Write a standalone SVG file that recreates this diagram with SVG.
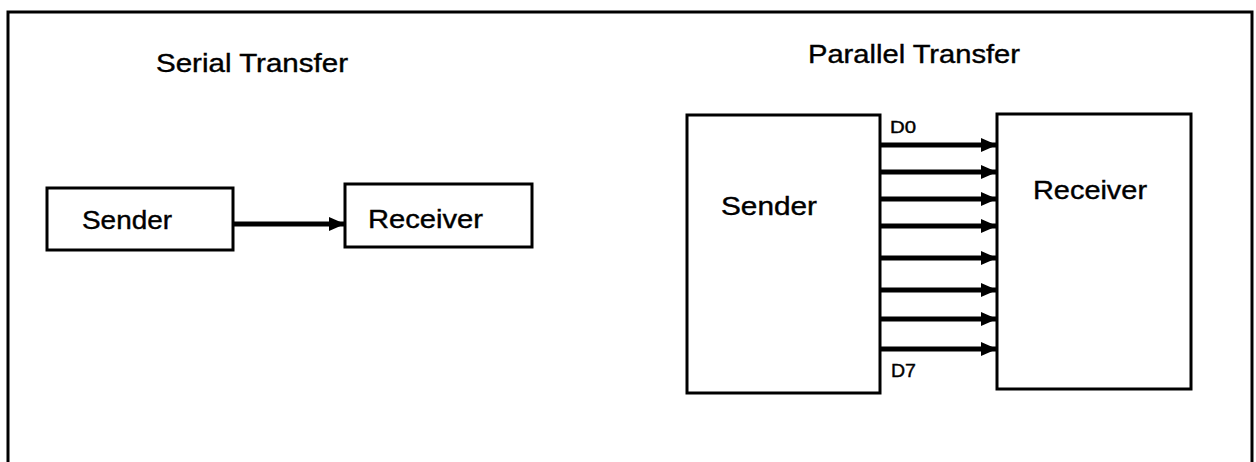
<svg xmlns="http://www.w3.org/2000/svg" width="1256" height="462" viewBox="0 0 1256 462">
<defs>
<style>
.box{fill:#fff;stroke:#000;stroke-width:3}
.t{font-family:"Liberation Sans",Arial,sans-serif;fill:#000;stroke:#000;stroke-width:0.4}
.w{stroke:#000;stroke-width:5;fill:none}
</style>
<marker id="ah" markerUnits="userSpaceOnUse" markerWidth="18" markerHeight="16" refX="16" refY="8" orient="auto">
<path d="M0,1 L16,8 L0,15 Z" fill="#000"/>
</marker>
</defs>
<rect width="1256" height="462" fill="#fff"/>
<path d="M8,470 V12 H1252 V470" fill="none" stroke="#000" stroke-width="3"/>
<text class="t" x="156" y="72" font-size="26" textLength="192" lengthAdjust="spacingAndGlyphs">Serial Transfer</text>
<text class="t" x="808" y="63" font-size="26" textLength="212" lengthAdjust="spacingAndGlyphs">Parallel Transfer</text>
<g id="serial-sender">
<rect class="box" x="47" y="188" width="186" height="62"/>
<text class="t" x="82" y="229" font-size="26" textLength="90" lengthAdjust="spacingAndGlyphs">Sender</text>
</g>
<g id="serial-receiver">
<rect class="box" x="345" y="184" width="187" height="63"/>
<text class="t" x="368" y="228" font-size="26" textLength="115" lengthAdjust="spacingAndGlyphs">Receiver</text>
</g>
<g id="parallel-sender">
<rect class="box" x="687" y="115" width="193" height="278"/>
<text class="t" x="721" y="215" font-size="26" textLength="96" lengthAdjust="spacingAndGlyphs">Sender</text>
</g>
<g id="parallel-receiver">
<rect class="box" x="997" y="114" width="194" height="275"/>
<text class="t" x="1033" y="199" font-size="26" textLength="114" lengthAdjust="spacingAndGlyphs">Receiver</text>
</g>
<g id="connectors">
<line class="w" x1="233" y1="224" x2="345" y2="224" marker-end="url(#ah)"/>
<line class="w" x1="880" y1="145" x2="997" y2="145" marker-end="url(#ah)"/>
<line class="w" x1="880" y1="172" x2="997" y2="172" marker-end="url(#ah)"/>
<line class="w" x1="880" y1="199" x2="997" y2="199" marker-end="url(#ah)"/>
<line class="w" x1="880" y1="226" x2="997" y2="226" marker-end="url(#ah)"/>
<line class="w" x1="880" y1="258" x2="997" y2="258" marker-end="url(#ah)"/>
<line class="w" x1="880" y1="290" x2="997" y2="290" marker-end="url(#ah)"/>
<line class="w" x1="880" y1="319" x2="997" y2="319" marker-end="url(#ah)"/>
<line class="w" x1="880" y1="349" x2="997" y2="349" marker-end="url(#ah)"/>
<text class="t" x="890" y="133" font-size="16" textLength="26" lengthAdjust="spacingAndGlyphs">D0</text>
<text class="t" x="891" y="377" font-size="18" textLength="25" lengthAdjust="spacingAndGlyphs">D7</text>
</g>
</svg>
